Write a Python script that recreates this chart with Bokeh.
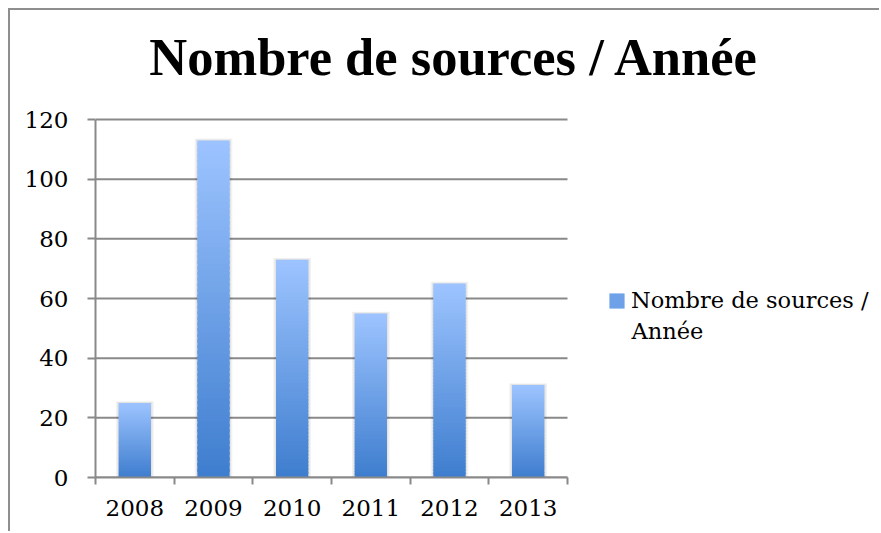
from bokeh.plotting import figure
from bokeh.models import Range1d, FixedTicker, Legend, LegendItem, Label, ColumnDataSource
from bokeh.embed import file_html
from bokeh.resources import INLINE

# ---- data ----
years = ["2008", "2009", "2010", "2011", "2012", "2013"]
values = [25, 113, 73, 55, 65, 31]
y_ticks = [0, 20, 40, 60, 80, 100, 120]
legend_lines = ["Nombre de sources /", "Année"]
title_text = "Nombre de sources / Année"

GRAY = "#898989"
LIGHT = (157, 196, 255)
DARK = (62, 125, 206)
BAR_W = 0.41

W, H = 871, 523
LEFT, BOTTOM = 85, 56
PLOT_W, PLOT_H = 472, 358         # px size of the category / value area
FRAME_W, FRAME_H = W - LEFT, H - BOTTOM
n = len(years)
y_max = y_ticks[-1]
x_end = n * FRAME_W / PLOT_W      # frame extends right for the legend
y_end = y_max * FRAME_H / PLOT_H  # and up for the title

p = figure(width=W, height=H, x_range=Range1d(0, x_end), y_range=Range1d(0, y_end),
           output_backend="svg", toolbar_location=None,
           min_border_left=LEFT, min_border_top=0, min_border_right=0, min_border_bottom=BOTTOM)
p.styles = {"border-top": "2px solid #8e8e8e", "border-left": "2px solid #8e8e8e",
            "margin-left": "8px", "margin-top": "8px"}
p.outline_line_color = None
p.background_fill_color = "white"
p.border_fill_color = "white"

# horizontal gridlines limited to the category area
p.segment(x0=0, x1=n, y0=y_ticks, y1=y_ticks, line_color=GRAY, line_width=2)

# shadow behind bars
centers = [i + 0.5 for i in range(n)]
p.quad(left=[c - BAR_W / 2 - 0.035 for c in centers], right=[c + BAR_W / 2 + 0.035 for c in centers],
       bottom=0, top=[v + 0.6 for v in values], fill_color="#000000", fill_alpha=0.05, line_color=None)
p.quad(left=[c - BAR_W / 2 - 0.018 for c in centers], right=[c + BAR_W / 2 + 0.018 for c in centers],
       bottom=0, top=[v + 0.3 for v in values], fill_color="#000000", fill_alpha=0.06, line_color=None)

# gradient bars as stacked strips
N = 60
L, R, B, T, C = [], [], [], [], []
for c, v in zip(centers, values):
    for k in range(N):
        f = (k + 0.5) / N
        rgb = tuple(int(round(DARK[j] + (LIGHT[j] - DARK[j]) * f)) for j in range(3))
        L.append(c - BAR_W / 2)
        R.append(c + BAR_W / 2)
        B.append(v * k / N)
        T.append(min(v, v * (k + 1.6) / N))
        C.append("#%02x%02x%02x" % rgb)
src = ColumnDataSource(dict(left=L, right=R, bottom=B, top=T, color=C))
bars = p.quad(left="left", right="right", bottom="bottom", top="top", fill_color="color",
              line_color=None, source=src)

legend = Legend(items=[LegendItem(label=legend_lines[0], renderers=[bars], index=N // 2)],
                location=(512, 164), padding=0, margin=0, border_line_color=None,
                background_fill_alpha=0, glyph_width=19, glyph_height=19, label_standoff=5,
                label_text_font="DejaVu Serif", label_text_font_size="22.5px",
                label_text_color="black")
p.add_layout(legend, "center")
p.add_layout(Label(x=536, y=147, x_units="screen", y_units="screen", text=legend_lines[1],
                   text_font="DejaVu Serif", text_font_size="22.5px", text_color="black",
                   text_baseline="alphabetic", text_align="left"))

# title
p.add_layout(Label(x=359, y=421, x_units="screen", y_units="screen", text=title_text,
                   text_font="Liberation Serif", text_font_style="bold", text_font_size="52.5px",
                   text_color="black", text_baseline="alphabetic", text_align="center"))

# axes
p.yaxis.ticker = FixedTicker(ticks=y_ticks, minor_ticks=[])
p.yaxis.bounds = (0, y_max)
p.yaxis.major_tick_out = 8
p.yaxis.major_tick_in = 0
p.yaxis.major_tick_line_color = GRAY
p.yaxis.major_tick_line_width = 2
p.yaxis.axis_line_color = GRAY
p.yaxis.axis_line_width = 2
p.yaxis.major_label_standoff = 19
p.yaxis.major_label_text_font = "DejaVu Serif"
p.yaxis.major_label_text_font_size = "23px"
p.yaxis.major_label_text_color = "black"

p.xaxis.ticker = FixedTicker(ticks=centers, minor_ticks=list(range(n + 1)))
p.xaxis.bounds = (0, n)
p.xaxis.major_label_overrides = {c: y for c, y in zip(centers, years)}
p.xaxis.major_tick_line_color = None
p.xaxis.minor_tick_out = 7
p.xaxis.minor_tick_in = 0
p.xaxis.minor_tick_line_color = GRAY
p.xaxis.minor_tick_line_width = 2
p.xaxis.axis_line_color = GRAY
p.xaxis.axis_line_width = 2
p.xaxis.major_label_standoff = 15
p.xaxis.major_label_text_font = "DejaVu Serif"
p.xaxis.major_label_text_font_size = "23px"
p.xaxis.major_label_text_color = "black"

p.xgrid.grid_line_color = None
p.ygrid.grid_line_color = None

open("out.html", "w").write(file_html(p, INLINE))
